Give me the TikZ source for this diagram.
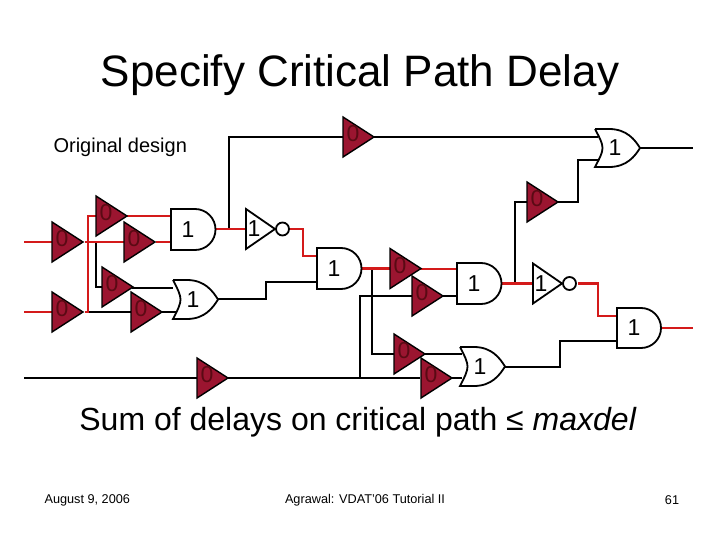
\documentclass[tikz,border=0pt]{standalone}
\usepackage{fontspec}
\setmainfont{Liberation Sans}
\definecolor{wred}{HTML}{D41A1A}
\definecolor{bfill}{HTML}{9B1530}
\definecolor{btxt}{HTML}{5A0A14}
\tikzset{
  wire/.style={line width=2.6pt},
  rwire/.style={line width=2.6pt,draw=wred},
  gate/.style={line width=1.8pt,fill=white,draw=black},
  bufs/.style={line width=1.4pt,fill=bfill,draw=black},
  glab/.style={font=\fontsize{23}{23}\selectfont,inner sep=0pt},
  blab/.style={font=\fontsize{23}{23}\selectfont,inner sep=0pt,text=btxt},
}
\newcommand\mybuf[3]{\draw[bufs] (#2,#3-20) -- (#2+31,#3) -- (#2,#3+20) -- cycle;
  \node[blab] (#1) at (#2+10,#3-3) {0};}
\newcommand\myand[4]{\pgfmathsetmacro\rr{(#4-#3)/2}
  \draw[gate] (#2,#3) -- (#2+24,#3) arc(-90:90:\rr) -- (#2,#4) -- cycle;
  \node[glab] (#1) at (#2+17,#3/2+#4/2) {1};}
\newcommand\myor[4]{\pgfmathsetmacro\cc{(#3+#4)/2}
  \draw[gate] (#2,#3) -- (#2+14,#3) .. controls (#2+32,#3) and (#2+40,\cc-8) .. (#2+45,\cc)
  .. controls (#2+40,\cc+8) and (#2+32,#4) .. (#2+14,#4) -- (#2,#4) .. controls (#2+10,\cc) .. (#2,#3);
  \node[glab] (#1) at (#2+20,\cc) {1};}
\newcommand\mynot[3]{\draw[gate] (#2,#3-20) -- (#2+29,#3) -- (#2,#3+20) -- cycle;
  \draw[gate] (#2+36.5,#3) circle (6.5);
  \node[glab] (#1) at (#2+8,#3) {1};}
\begin{document}
\begin{tikzpicture}[x=1pt,y=-1pt]
\useasboundingbox (0,0) rectangle (720,540);
\fill[white] (0,0) rectangle (720,540);
\node[font=\fontsize{44}{44}\selectfont] (title) at (360,75) {Specify Critical Path Delay};
\node[font=\fontsize{20}{20}\selectfont,anchor=west] (orig) at (50,147) {Original design};
\node[font=\fontsize{32}{32}\selectfont] (sum) at (358,422) {Sum of delays on critical path ≤ \textit{maxdel}};
\node[font=\fontsize{12.7}{12.7}\selectfont,anchor=west] (date) at (41,500) {August 9, 2006};
\node[font=\fontsize{12.7}{12.7}\selectfont] (au) at (365,500) {Agrawal: VDAT'06 Tutorial II};
\node[font=\fontsize{12.7}{12.7}\selectfont] (pg) at (672,500) {61};
% black wires
\draw[wire] (96,242) -- (96,287) -- (102,287);
\draw[wire] (85,312) -- (131,312);
\draw[wire] (132,288) -- (173,288);
\draw[wire] (162,312) -- (176,312);
\draw[wire] (24,378) -- (420,378);
\draw[wire] (217,299) -- (266,299) -- (266,282) -- (317,282);
\draw[wire] (229,229) -- (229,137) -- (343,137);
\draw[wire] (373,137) -- (598,137);
\draw[wire] (640,148) -- (693,148);
\draw[wire] (558,202) -- (578,202) -- (578,160) -- (598,160);
\draw[wire] (515,283) -- (515,202) -- (527,202);
\draw[wire] (360,378) -- (360,296) -- (412,296);
\draw[wire] (442,296) -- (457,296);
\draw[wire] (372,269) -- (372,354) -- (394,354);
\draw[wire] (425,354) -- (462,354);
\draw[wire] (452,378) -- (462,378);
\draw[wire] (505,367) -- (560,367) -- (560,341) -- (617,341);
% red wires
\draw[rwire] (24,242) -- (52,242);
\draw[rwire] (24,312) -- (52,312);
\draw[rwire] (85,242) -- (124,242);
\draw[rwire] (85,312) -- (88,312) -- (88,216) -- (96,216);
\draw[rwire] (127,216) -- (171,216);
\draw[rwire] (156,242) -- (171,242);
\draw[rwire] (216,229) -- (246,229);
\draw[rwire] (289,229) -- (303,229) -- (303,256) -- (317,256);
\draw[rwire] (362,268.5) -- (390,268.5);
\draw[rwire] (420,269) -- (457,269);
\draw[rwire] (501,283.5) -- (533,283.5);
\draw[rwire] (578,283.5) -- (598,283.5) -- (598,316) -- (617,316);
\draw[rwire] (662,328) -- (693,328);
% gates
\mybuf{bA}{52}{242}
\mybuf{bB}{52}{312}
\mybuf{bC}{96}{216}
\mybuf{bD}{124}{242}
\mybuf{bE}{102}{287}
\mybuf{bF}{131}{312}
\mybuf{bG}{197}{378}
\mybuf{bH}{343}{137}
\mybuf{bI}{390}{268.5}
\mybuf{bJ}{412}{296}
\mybuf{bK}{394}{354}
\mybuf{bL}{421}{378}
\mybuf{bM}{527}{202}
\myand{a1}{171}{209}{250}
\myand{a2}{317}{248}{289}
\myand{a3}{457}{263}{304}
\myand{a4}{617}{308}{348}
\myor{o1}{173}{280}{319}
\myor{o2}{460}{347}{386}
\myor{o3}{595}{129}{167}
\mynot{n1}{246}{229}
\mynot{n2}{533}{283.5}
\end{tikzpicture}
\end{document}
